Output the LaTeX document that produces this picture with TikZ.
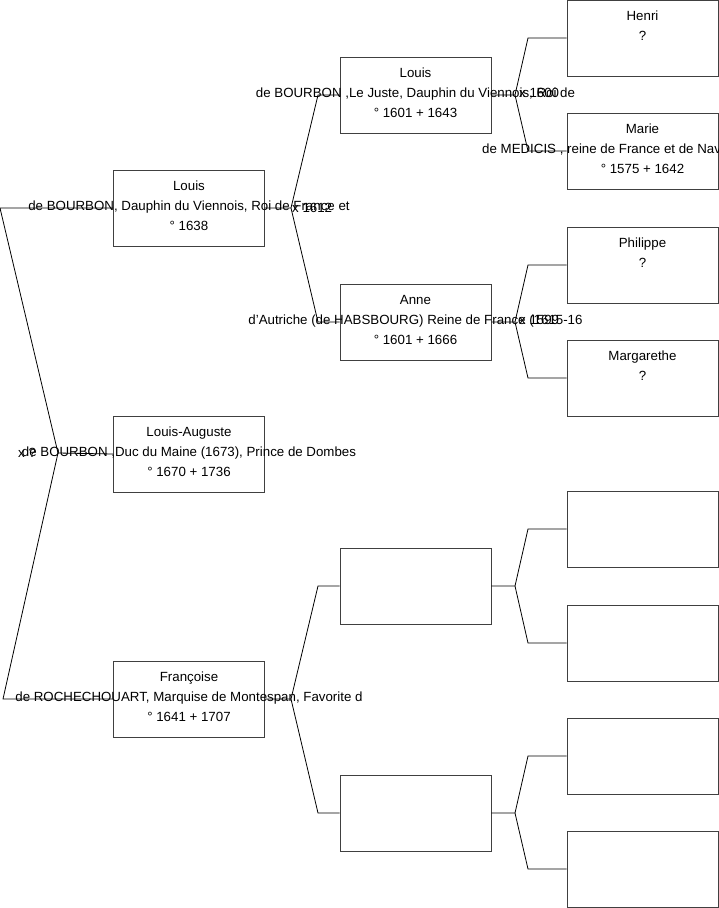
\documentclass[tikz,border=0pt]{standalone}
\usepackage{fontspec}
\setmainfont{Liberation Sans}
\usetikzlibrary{positioning, calc}

\begin{document}
\begin{tikzpicture}[
    x = 1pt, y = -1pt,
    every node/.style = {font=\fontsize{13.3}{15}\selectfont},
    pbox/.style = {
        rectangle, draw={rgb,255:red,64;green,64;blue,64},
        line width=0.9pt, minimum width=151pt, minimum height=76pt,
        inner sep=0pt
    },
    line1/.style = {anchor=base, inner sep=0pt},
    link/.style = {line width=0.8pt, color=black},
    mlbl/.style = {anchor=west, inner sep=0pt}
]
\useasboundingbox (0,0) rectangle (719,908);

%% Generation 0
\node[pbox] (lxiv)  at (189,208) {};
\node[pbox] (laug)  at (189,454) {};
\node[pbox] (franc) at (189,699) {};

%% Generation 1
\node[pbox] (lxiii) at (415.5,95)  {};
\node[pbox] (anne)  at (415.5,322) {};
\node[pbox] (emp1)  at (415.5,586) {};
\node[pbox] (emp2)  at (415.5,813) {};

%% Generation 2
\node[pbox] (henri)  at (642.5,38)  {};
\node[pbox] (marie)  at (642.5,151) {};
\node[pbox] (phil)   at (642.5,265) {};
\node[pbox] (marg)   at (642.5,378) {};
\node[pbox] (emp3)   at (642.5,529) {};
\node[pbox] (emp4)   at (642.5,643) {};
\node[pbox] (emp5)   at (642.5,756) {};
\node[pbox] (emp6)   at (642.5,869) {};

%% Texts
\node[line1] (lxiv-a) at ([yshift=18pt]lxiv.center) {Louis};
\node[line1] (lxiv-b) at ([yshift=-2pt]lxiv.center) {de BOURBON, Dauphin du Viennois, Roi de France et};
\node[line1] (lxiv-c) at ([yshift=-22pt]lxiv.center) {° 1638};

\node[line1] (laug-a) at ([yshift=18pt]laug.center) {Louis-Auguste};
\node[line1] (laug-b) at ([yshift=-2pt]laug.center) {de BOURBON ,Duc du Maine (1673), Prince de Dombes};
\node[line1] (laug-c) at ([yshift=-22pt]laug.center) {° 1670 + 1736};

\node[line1] (franc-a) at ([yshift=18pt]franc.center) {Françoise};
\node[line1] (franc-b) at ([yshift=-2pt]franc.center) {de ROCHECHOUART, Marquise de Montespan, Favorite d};
\node[line1] (franc-c) at ([yshift=-22pt]franc.center) {° 1641 + 1707};

\node[line1] (lxiii-a) at ([yshift=18pt]lxiii.center) {Louis};
\node[line1] (lxiii-b) at ([yshift=-2pt]lxiii.center) {de BOURBON ,Le Juste, Dauphin du Viennois, Roi de};
\node[line1] (lxiii-c) at ([yshift=-22pt]lxiii.center) {° 1601 + 1643};

\node[line1] (anne-a) at ([yshift=18pt]anne.center) {Anne};
\node[line1] (anne-b) at ([yshift=-2pt]anne.center) {d'Autriche (de HABSBOURG) Reine de France (1615-16};
\node[line1] (anne-c) at ([yshift=-22pt]anne.center) {° 1601 + 1666};

\node[line1] (henri-a) at ([yshift=18pt]henri.center) {Henri};
\node[line1] (henri-b) at ([yshift=-2pt]henri.center) {?};

\node[line1] (marie-a) at ([yshift=18pt]marie.center) {Marie};
\node[line1, anchor=base west] (marie-b) at (482,153) {de MEDICIS , reine de France et de Navarre};
\node[line1] (marie-c) at ([yshift=-22pt]marie.center) {° 1575 + 1642};

\node[line1] (phil-a) at ([yshift=18pt]phil.center) {Philippe};
\node[line1] (phil-b) at ([yshift=-2pt]phil.center) {?};

\node[line1] (marg-a) at ([yshift=18pt]marg.center) {Margarethe};
\node[line1] (marg-b) at ([yshift=-2pt]marg.center) {?};

%% Bracket points
\coordinate (j0)  at (58,453);
\coordinate (j0a) at (0,208);
\coordinate (j0b) at (3,699);
\coordinate (j1)  at (291,208);
\coordinate (j1a) at (318,95);
\coordinate (j1b) at (318,322);
\coordinate (j2)  at (291,699);
\coordinate (j2a) at (318,586);
\coordinate (j2b) at (318,813);
\coordinate (j3)  at (515,95);
\coordinate (j3a) at (528,38);
\coordinate (j3b) at (528,151);
\coordinate (j4)  at (515,322);
\coordinate (j4a) at (528,265);
\coordinate (j4b) at (528,378);
\coordinate (j5)  at (515,586);
\coordinate (j5a) at (528,529);
\coordinate (j5b) at (528,643);
\coordinate (j6)  at (515,813);
\coordinate (j6a) at (528,756);
\coordinate (j6b) at (528,869);

%% Connectors
\draw[link] (laug.west) -- (j0) -- (j0a) -- (lxiv.west);
\draw[link] (j0) -- (j0b) -- (franc.west);
\draw[link] (lxiv.east) -- (j1) -- (j1a) -- (lxiii.west);
\draw[link] (j1) -- (j1b) -- (anne.west);
\draw[link] (franc.east) -- (j2) -- (j2a) -- (emp1.west);
\draw[link] (j2) -- (j2b) -- (emp2.west);
\draw[link] (lxiii.east) -- (j3) -- (j3a) -- (henri.west);
\draw[link] (j3) -- (j3b) -- (marie.west);
\draw[link] (anne.east) -- (j4) -- (j4a) -- (phil.west);
\draw[link] (j4) -- (j4b) -- (marg.west);
\draw[link] (emp1.east) -- (j5) -- (j5a) -- (emp3.west);
\draw[link] (j5) -- (j5b) -- (emp4.west);
\draw[link] (emp2.east) -- (j6) -- (j6a) -- (emp5.west);
\draw[link] (j6) -- (j6b) -- (emp6.west);

%% Marriage labels
\node[mlbl] (m0) at (18,453)  {x ?};
\node[mlbl] (m1) at (292,208) {x 1612};
\node[mlbl] (m3) at (519,93)  {x 1600};
\node[mlbl] (m4) at (519,320) {x 1599};

\end{tikzpicture}
\end{document}
